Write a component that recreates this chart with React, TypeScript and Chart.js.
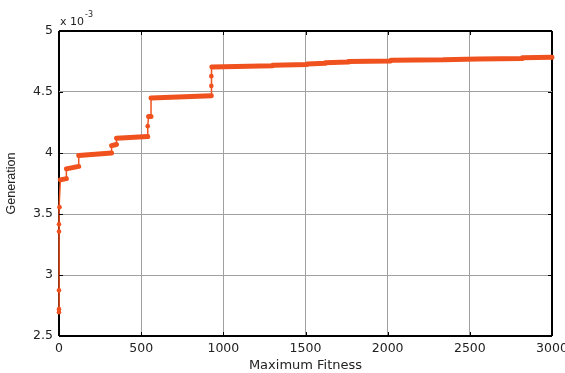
import React, { useEffect, useRef } from "react";
import { Chart, registerables } from "chart.js";

Chart.register(...registerables);

// Horizontal plateaus of the step curve (y in units of 1e-3)
const levelX0 = [8, 45, 120, 320, 350, 545, 560, 930, 1300, 1510, 1620, 1760, 2020, 2340, 2550, 2820];
const levelX1 = [45, 120, 320, 350, 540, 560, 927, 1300, 1510, 1620, 1760, 2020, 2340, 2550, 2820, 3000];
const levelY0 = [3.78, 3.87, 3.98, 4.06, 4.12, 4.30, 4.45, 4.705, 4.72, 4.73, 4.74, 4.75, 4.76, 4.765, 4.77, 4.78];
const levelY1 = [3.79, 3.89, 4.0, 4.07, 4.135, 4.30, 4.47, 4.715, 4.725, 4.735, 4.745, 4.755, 4.765, 4.77, 4.775, 4.785];

// Isolated generation markers on the jumps
const jumpX = [0, 0, 0, 0, 0, 3, 540, 927, 927];
const jumpY = [2.695, 2.72, 2.874, 3.357, 3.416, 3.556, 4.22, 4.55, 4.63];

const xTicks = [0, 500, 1000, 1500, 2000, 2500, 3000];
const yTicks = [2.5, 3, 3.5, 4, 4.5, 5];

const RED = "#F0521F";

export default function App() {
  const ref = useRef<HTMLCanvasElement>(null);
  useEffect(() => {
    document.body.style.margin = "0";
    const thick: any[] = [];
    const path: { x: number; y: number }[] = [];
    for (let i = 0; i < levelX0.length; i++) {
      thick.push({ x: levelX0[i], y: levelY0[i] });
      thick.push({ x: levelX1[i], y: levelY1[i] });
      thick.push({ x: levelX1[i], y: null });
      path.push({ x: levelX0[i], y: levelY0[i] });
      path.push({ x: levelX1[i], y: levelY1[i] });
    }
    const marks = jumpX.map((x, i) => ({ x, y: jumpY[i] }));
    path.push(...marks);
    path.sort((a, b) => a.x - b.x || a.y - b.y);

    const isEdge = (c: any, lo: number, hi: number) =>
      c.tick && (c.tick.value === lo || c.tick.value === hi);

    const frame = {
      id: "frameTicks",
      afterDraw(chart: any) {
        const { ctx, chartArea: a, scales } = chart;
        ctx.save();
        ctx.strokeStyle = "#000";
        ctx.lineWidth = 1;
        const t = 4;
        ctx.beginPath();
        for (const v of xTicks) {
          const px = Math.round(scales.x.getPixelForValue(v)) + 0.5;
          ctx.moveTo(px, a.bottom); ctx.lineTo(px, a.bottom - t);
          ctx.moveTo(px, a.top); ctx.lineTo(px, a.top + t);
        }
        for (const v of yTicks) {
          const py = Math.round(scales.y.getPixelForValue(v)) + 0.5;
          ctx.moveTo(a.left, py); ctx.lineTo(a.left + t, py);
          ctx.moveTo(a.right, py); ctx.lineTo(a.right - t, py);
        }
        ctx.stroke();
        ctx.fillStyle = "#222";
        ctx.font = "11px 'DejaVu Sans'";
        ctx.textBaseline = "alphabetic";
        ctx.fillText("x 10", a.left + 1, 25);
        const w = ctx.measureText("x 10").width;
        ctx.font = "8px 'DejaVu Sans'";
        ctx.fillText("-3", a.left + 1 + w + 1, 17);
        ctx.restore();
      },
    };

    const chart = new Chart(ref.current!, {
      type: "line",
      data: {
        datasets: [
          {
            data: path,
            borderColor: RED,
            borderWidth: 1.5,
            pointRadius: 0,
            tension: 0,
            clip: 6,
          },
          {
            data: thick,
            borderColor: RED,
            borderWidth: 5,
            borderCapStyle: "round",
            borderJoinStyle: "round",
            pointRadius: 0,
            spanGaps: false,
            tension: 0,
            clip: 6,
          },
          {
            data: marks,
            showLine: false,
            pointRadius: 2.3,
            pointBackgroundColor: RED,
            pointBorderColor: RED,
            pointBorderWidth: 0,
            clip: 6,
          },
        ] as any,
      },
      options: {
        animation: false,
        responsive: false,
        parsing: false as any,
        normalized: true,
        layout: { padding: { top: 31, right: 13, left: 0, bottom: 0 } },
        plugins: { legend: { display: false }, tooltip: { enabled: false } },
        scales: {
          x: {
            type: "linear",
            min: 0,
            max: 3000,
            afterFit(s: any) { s.height = 37; s.paddingLeft = 0; s.paddingRight = 0; },
            afterBuildTicks(s: any) { s.ticks = xTicks.map((v) => ({ value: v })); },
            grid: {
              color: (c: any) => (isEdge(c, 0, 3000) ? "#000" : "#a0a0a0"),
              lineWidth: (c: any) => (isEdge(c, 0, 3000) ? 2 : 1),
              drawTicks: false,
            },
            border: { display: false },
            ticks: {
              color: "#222",
              padding: 5,
              maxRotation: 0,
              autoSkip: false,
              font: { family: "'DejaVu Sans'", size: 12.5 },
              callback: (v: any) => String(v),
            },
            title: {
              display: true,
              text: "Maximum Fitness",
              color: "#222",
              font: { family: "'DejaVu Sans'", size: 13 },
              padding: { top: 0, bottom: 0 },
            },
          },
          y: {
            type: "linear",
            min: 2.5,
            max: 5,
            afterFit(s: any) { s.width = 59; },
            afterBuildTicks(s: any) { s.ticks = yTicks.map((v) => ({ value: v })); },
            grid: {
              color: (c: any) => (isEdge(c, 2.5, 5) ? "#000" : "#a0a0a0"),
              lineWidth: (c: any) => (isEdge(c, 2.5, 5) ? 2 : 1),
              drawTicks: false,
            },
            border: { display: false },
            ticks: {
              color: "#222",
              padding: 6,
              autoSkip: false,
              font: { family: "'DejaVu Sans'", size: 12.5 },
              callback: (v: any) => String(v),
            },
            title: {
              display: true,
              text: "Generation",
              color: "#222",
              font: { family: "'Liberation Sans'", size: 12.5 },
              padding: { top: 4, bottom: 0 },
            },
          },
        },
      },
      plugins: [frame],
    });
    return () => chart.destroy();
  }, []);
  return (
    <div style={{ width: 565, height: 373, background: "#fff" }}>
      <canvas ref={ref} width={565} height={373} style={{ display: "block" }} />
    </div>
  );
}
